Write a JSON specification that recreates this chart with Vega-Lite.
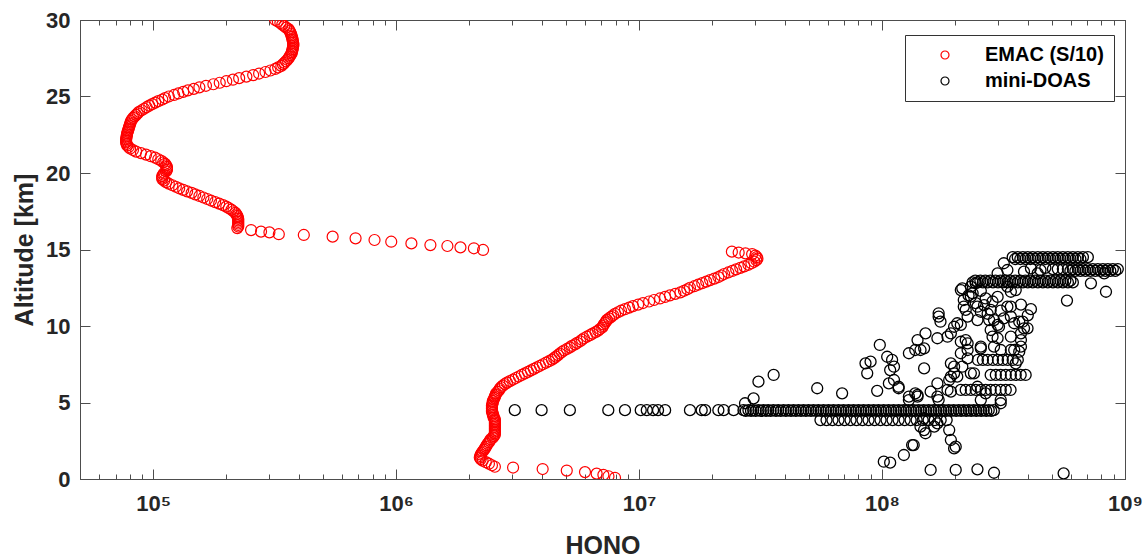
{
"$schema": "https://vega.github.io/schema/vega-lite/v6.json",
"width": 1045, "height": 459,
"autosize": {"type": "none"},
"padding": {"left": 80, "top": 20, "right": 21, "bottom": 79},
"background": "white",
"config": {"view": {"stroke": "#4d4d4d", "strokeWidth": 1}, "font": "Liberation Sans"},
"datasets": {
"emac": [
{"hono":318000,"alt":30.0},{"hono":326000,"alt":29.9},{"hono":334000,"alt":29.8},{"hono":340000,"alt":29.7},{"hono":347000,"alt":29.6},{"hono":353000,"alt":29.5},{"hono":361000,"alt":29.4},{"hono":364000,"alt":29.3},{"hono":367000,"alt":29.2},{"hono":369000,"alt":29.1},{"hono":371000,"alt":29.0},{"hono":372000,"alt":28.9},{"hono":374000,"alt":28.8},{"hono":375000,"alt":28.7},{"hono":376000,"alt":28.6},{"hono":377000,"alt":28.5},{"hono":378000,"alt":28.4},{"hono":377000,"alt":28.3},{"hono":376000,"alt":28.2},{"hono":375000,"alt":28.1},{"hono":374000,"alt":28.0},{"hono":372000,"alt":27.9},{"hono":371000,"alt":27.8},{"hono":367000,"alt":27.7},{"hono":364000,"alt":27.6},{"hono":361000,"alt":27.5},{"hono":357000,"alt":27.4},{"hono":352000,"alt":27.3},{"hono":347000,"alt":27.2},{"hono":342000,"alt":27.1},{"hono":337000,"alt":27.0},{"hono":327000,"alt":26.9},{"hono":318000,"alt":26.8},{"hono":304000,"alt":26.7},{"hono":290000,"alt":26.6},{"hono":273000,"alt":26.5},{"hono":258000,"alt":26.4},{"hono":242000,"alt":26.3},{"hono":226000,"alt":26.2},{"hono":213000,"alt":26.1},{"hono":200000,"alt":26.0},{"hono":188000,"alt":25.9},{"hono":177000,"alt":25.8},{"hono":165000,"alt":25.7},{"hono":155000,"alt":25.6},{"hono":147000,"alt":25.5},{"hono":139000,"alt":25.4},{"hono":133000,"alt":25.3},{"hono":127000,"alt":25.2},{"hono":122000,"alt":25.1},{"hono":116000,"alt":25.0},{"hono":112000,"alt":24.9},{"hono":109000,"alt":24.8},{"hono":105000,"alt":24.7},{"hono":102000,"alt":24.6},{"hono":99100,"alt":24.5},{"hono":96400,"alt":24.4},{"hono":94000,"alt":24.3},{"hono":91800,"alt":24.2},{"hono":89700,"alt":24.1},{"hono":87500,"alt":24.0},{"hono":86300,"alt":23.9},{"hono":85100,"alt":23.8},{"hono":83900,"alt":23.7},{"hono":82800,"alt":23.6},{"hono":81800,"alt":23.5},{"hono":81100,"alt":23.4},{"hono":80700,"alt":23.3},{"hono":80400,"alt":23.2},{"hono":80000,"alt":23.1},{"hono":79600,"alt":23.0},{"hono":79300,"alt":22.9},{"hono":78900,"alt":22.8},{"hono":78500,"alt":22.7},{"hono":78200,"alt":22.6},{"hono":78000,"alt":22.5},{"hono":77800,"alt":22.4},{"hono":77600,"alt":22.3},{"hono":77400,"alt":22.2},{"hono":77400,"alt":22.1},{"hono":77400,"alt":22.0},{"hono":77800,"alt":21.9},{"hono":78200,"alt":21.8},{"hono":79300,"alt":21.7},{"hono":80400,"alt":21.6},{"hono":82600,"alt":21.5},{"hono":85100,"alt":21.4},{"hono":89100,"alt":21.3},{"hono":93500,"alt":21.2},{"hono":97700,"alt":21.1},{"hono":101900,"alt":21.0},{"hono":105000,"alt":20.9},{"hono":108000,"alt":20.8},{"hono":110000,"alt":20.7},{"hono":112000,"alt":20.6},{"hono":113000,"alt":20.5},{"hono":114000,"alt":20.4},{"hono":114000,"alt":20.3},{"hono":114000,"alt":20.2},{"hono":113000,"alt":20.1},{"hono":111000,"alt":20.0},{"hono":110000,"alt":19.9},{"hono":109000,"alt":19.8},{"hono":109000,"alt":19.7},{"hono":109000,"alt":19.6},{"hono":111000,"alt":19.5},{"hono":113000,"alt":19.4},{"hono":116000,"alt":19.3},{"hono":120000,"alt":19.2},{"hono":124000,"alt":19.1},{"hono":128000,"alt":19.0},{"hono":133000,"alt":18.9},{"hono":138000,"alt":18.8},{"hono":144000,"alt":18.7},{"hono":149000,"alt":18.6},{"hono":155000,"alt":18.5},{"hono":161000,"alt":18.4},{"hono":167000,"alt":18.3},{"hono":173000,"alt":18.2},{"hono":180000,"alt":18.1},{"hono":187000,"alt":18.0},{"hono":194000,"alt":17.9},{"hono":200000,"alt":17.8},{"hono":205000,"alt":17.7},{"hono":210000,"alt":17.6},{"hono":214000,"alt":17.5},{"hono":218000,"alt":17.4},{"hono":220000,"alt":17.3},{"hono":222000,"alt":17.2},{"hono":223000,"alt":17.1},{"hono":224000,"alt":17.0},{"hono":224000,"alt":16.9},{"hono":224000,"alt":16.8},{"hono":224000,"alt":16.7},{"hono":224000,"alt":16.6},{"hono":224000,"alt":16.5},{"hono":222000,"alt":16.4},
{"hono":253000,"alt":16.27},{"hono":278000,"alt":16.17},{"hono":301000,"alt":16.12},{"hono":329000,"alt":16.0},{"hono":417000,"alt":15.95},{"hono":548000,"alt":15.84},{"hono":681000,"alt":15.73},{"hono":815000,"alt":15.62},{"hono":955000,"alt":15.51},{"hono":1156000,"alt":15.4},{"hono":1384000,"alt":15.29},{"hono":1626000,"alt":15.23},{"hono":1840000,"alt":15.14},{"hono":2090000,"alt":15.08},{"hono":2280000,"alt":14.97},
{"hono":2.41e7,"alt":14.86},{"hono":2.57e7,"alt":14.8},{"hono":2.74e7,"alt":14.75},{"hono":2.92e7,"alt":14.7},{"hono":3.01e7,"alt":14.6},{"hono":3.05e7,"alt":14.5},{"hono":3.07e7,"alt":14.4},{"hono":3.04e7,"alt":14.3},{"hono":2.98e7,"alt":14.2},{"hono":2.90e7,"alt":14.1},{"hono":2.82e7,"alt":14.0},{"hono":2.71e7,"alt":13.9},{"hono":2.61e7,"alt":13.8},{"hono":2.51e7,"alt":13.7},{"hono":2.42e7,"alt":13.6},{"hono":2.33e7,"alt":13.5},{"hono":2.24e7,"alt":13.4},{"hono":2.18e7,"alt":13.3},{"hono":2.12e7,"alt":13.2},{"hono":2.04e7,"alt":13.1},{"hono":1.96e7,"alt":13.0},{"hono":1.89e7,"alt":12.9},{"hono":1.82e7,"alt":12.8},{"hono":1.75e7,"alt":12.7},{"hono":1.69e7,"alt":12.6},{"hono":1.62e7,"alt":12.5},{"hono":1.58e7,"alt":12.4},{"hono":1.53e7,"alt":12.3},{"hono":1.48e7,"alt":12.2},{"hono":1.41e7,"alt":12.1},{"hono":1.34e7,"alt":12.0},{"hono":1.28e7,"alt":11.9},{"hono":1.22e7,"alt":11.8},{"hono":1.153e7,"alt":11.7},{"hono":1.10e7,"alt":11.6},{"hono":1.038e7,"alt":11.5},{"hono":9.91e6,"alt":11.4},{"hono":9.44e6,"alt":11.3},{"hono":9.10e6,"alt":11.2},{"hono":8.75e6,"alt":11.1},{"hono":8.43e6,"alt":11.0},{"hono":8.19e6,"alt":10.9},{"hono":7.96e6,"alt":10.8},{"hono":7.82e6,"alt":10.7},{"hono":7.67e6,"alt":10.6},{"hono":7.52e6,"alt":10.5},{"hono":7.38e6,"alt":10.4},{"hono":7.31e6,"alt":10.3},{"hono":7.24e6,"alt":10.2},{"hono":7.15e6,"alt":10.1},{"hono":7.11e6,"alt":10.0},{"hono":7.05e6,"alt":9.9},{"hono":6.90e6,"alt":9.8},{"hono":6.78e6,"alt":9.7},{"hono":6.62e6,"alt":9.6},{"hono":6.43e6,"alt":9.5},{"hono":6.28e6,"alt":9.4},{"hono":6.10e6,"alt":9.3},{"hono":5.93e6,"alt":9.2},{"hono":5.82e6,"alt":9.1},{"hono":5.72e6,"alt":9.0},{"hono":5.56e6,"alt":8.9},{"hono":5.45e6,"alt":8.8},{"hono":5.29e6,"alt":8.7},{"hono":5.19e6,"alt":8.6},{"hono":5.05e6,"alt":8.5},{"hono":4.91e6,"alt":8.4},{"hono":4.81e6,"alt":8.3},{"hono":4.72e6,"alt":8.2},{"hono":4.64e6,"alt":8.1},{"hono":4.55e6,"alt":8.0},{"hono":4.47e6,"alt":7.9},{"hono":4.38e6,"alt":7.8},{"hono":4.26e6,"alt":7.7},{"hono":4.14e6,"alt":7.6},{"hono":4.02e6,"alt":7.5},{"hono":3.91e6,"alt":7.4},{"hono":3.80e6,"alt":7.3},{"hono":3.69e6,"alt":7.2},{"hono":3.59e6,"alt":7.1},{"hono":3.49e6,"alt":7.0},{"hono":3.39e6,"alt":6.9},{"hono":3.29e6,"alt":6.8},{"hono":3.20e6,"alt":6.7},{"hono":3.11e6,"alt":6.6},{"hono":3.03e6,"alt":6.5},{"hono":2.94e6,"alt":6.4},{"hono":2.86e6,"alt":6.3},{"hono":2.80e6,"alt":6.2},{"hono":2.75e6,"alt":6.1},{"hono":2.70e6,"alt":6.0},{"hono":2.67e6,"alt":5.9},{"hono":2.65e6,"alt":5.8},{"hono":2.62e6,"alt":5.7},{"hono":2.58e6,"alt":5.6},{"hono":2.57e6,"alt":5.5},{"hono":2.55e6,"alt":5.4},{"hono":2.54e6,"alt":5.3},{"hono":2.52e6,"alt":5.2},{"hono":2.50e6,"alt":5.1},{"hono":2.50e6,"alt":5.0},{"hono":2.49e6,"alt":4.9},{"hono":2.48e6,"alt":4.8},{"hono":2.48e6,"alt":4.7},{"hono":2.48e6,"alt":4.6},{"hono":2.48e6,"alt":4.5},{"hono":2.48e6,"alt":4.4},{"hono":2.50e6,"alt":4.3},{"hono":2.50e6,"alt":4.2},{"hono":2.52e6,"alt":4.1},{"hono":2.52e6,"alt":4.0},{"hono":2.55e6,"alt":3.9},{"hono":2.55e6,"alt":3.8},{"hono":2.55e6,"alt":3.7},{"hono":2.55e6,"alt":3.6},{"hono":2.55e6,"alt":3.5},{"hono":2.55e6,"alt":3.4},{"hono":2.55e6,"alt":3.3},{"hono":2.55e6,"alt":3.2},{"hono":2.55e6,"alt":3.1},{"hono":2.55e6,"alt":3.0},{"hono":2.55e6,"alt":2.9},{"hono":2.52e6,"alt":2.8},{"hono":2.50e6,"alt":2.7},{"hono":2.45e6,"alt":2.6},{"hono":2.43e6,"alt":2.5},{"hono":2.41e6,"alt":2.4},{"hono":2.38e6,"alt":2.3},{"hono":2.36e6,"alt":2.2},{"hono":2.34e6,"alt":2.1},{"hono":2.32e6,"alt":2.0},{"hono":2.30e6,"alt":1.9},{"hono":2.27e6,"alt":1.8},{"hono":2.25e6,"alt":1.7},{"hono":2.23e6,"alt":1.6},{"hono":2.22e6,"alt":1.5},{"hono":2.21e6,"alt":1.4},{"hono":2.23e6,"alt":1.3},{"hono":2.27e6,"alt":1.2},{"hono":2.34e6,"alt":1.1},{"hono":2.41e6,"alt":1.0},{"hono":2.48e6,"alt":0.9},{"hono":2.55e6,"alt":0.8},
{"hono":3.03e6,"alt":0.75},{"hono":4.01e6,"alt":0.65},{"hono":5.04e6,"alt":0.55},{"hono":5.99e6,"alt":0.45},{"hono":6.69e6,"alt":0.35},{"hono":7.13e6,"alt":0.27},{"hono":7.48e6,"alt":0.18},{"hono":7.96e6,"alt":0.08}
],
"doas": [
{"hono":3.08e6,"alt":4.5},{"hono":3.97e6,"alt":4.5},{"hono":5.19e6,"alt":4.5},{"hono":7.47e6,"alt":4.5},{"hono":8.75e6,"alt":4.5},{"hono":1.016e7,"alt":4.5},{"hono":1.076e7,"alt":4.5},{"hono":1.142e7,"alt":4.5},{"hono":1.197e7,"alt":4.5},{"hono":1.28e7,"alt":4.5},{"hono":1.62e7,"alt":4.5},{"hono":1.81e7,"alt":4.5},{"hono":1.87e7,"alt":4.5},{"hono":2.12e7,"alt":4.5},{"hono":2.23e7,"alt":4.5},{"hono":2.45e7,"alt":4.5},
{"hono":2.69e7,"alt":4.5},{"hono":2.82e7,"alt":4.5},{"hono":2.95e7,"alt":4.5},{"hono":3.10e7,"alt":4.5},{"hono":3.25e7,"alt":4.5},{"hono":3.40e7,"alt":4.5},{"hono":3.57e7,"alt":4.5},{"hono":3.74e7,"alt":4.5},{"hono":3.93e7,"alt":4.5},{"hono":4.12e7,"alt":4.5},{"hono":4.32e7,"alt":4.5},{"hono":4.53e7,"alt":4.5},{"hono":4.75e7,"alt":4.5},{"hono":4.98e7,"alt":4.5},{"hono":5.22e7,"alt":4.5},{"hono":5.47e7,"alt":4.5},{"hono":5.74e7,"alt":4.5},{"hono":6.02e7,"alt":4.5},{"hono":6.31e7,"alt":4.5},{"hono":6.62e7,"alt":4.5},{"hono":6.94e7,"alt":4.5},{"hono":7.28e7,"alt":4.5},{"hono":7.63e7,"alt":4.5},{"hono":8.00e7,"alt":4.5},{"hono":8.39e7,"alt":4.5},{"hono":8.80e7,"alt":4.5},{"hono":9.23e7,"alt":4.5},{"hono":9.67e7,"alt":4.5},{"hono":1.015e8,"alt":4.5},{"hono":1.064e8,"alt":4.5},{"hono":1.116e8,"alt":4.5},{"hono":1.17e8,"alt":4.5},{"hono":1.227e8,"alt":4.5},{"hono":1.286e8,"alt":4.5},{"hono":1.349e8,"alt":4.5},{"hono":1.414e8,"alt":4.5},{"hono":1.483e8,"alt":4.5},{"hono":1.555e8,"alt":4.5},{"hono":1.631e8,"alt":4.5},{"hono":1.71e8,"alt":4.5},{"hono":1.793e8,"alt":4.5},{"hono":1.88e8,"alt":4.5},{"hono":1.971e8,"alt":4.5},{"hono":2.068e8,"alt":4.5},{"hono":2.168e8,"alt":4.5},{"hono":2.273e8,"alt":4.5},{"hono":2.384e8,"alt":4.5},{"hono":2.499e8,"alt":4.5},{"hono":2.621e8,"alt":4.5},{"hono":2.748e8,"alt":4.5},{"hono":2.882e8,"alt":4.5},
{"hono":2.75e7,"alt":4.45},{"hono":2.89e7,"alt":4.45},{"hono":3.02e7,"alt":4.45},{"hono":3.17e7,"alt":4.45},{"hono":3.33e7,"alt":4.45},{"hono":3.48e7,"alt":4.45},{"hono":3.66e7,"alt":4.45},{"hono":3.83e7,"alt":4.45},{"hono":4.02e7,"alt":4.45},{"hono":4.22e7,"alt":4.45},{"hono":4.42e7,"alt":4.45},{"hono":4.64e7,"alt":4.45},{"hono":4.86e7,"alt":4.45},{"hono":5.10e7,"alt":4.45},{"hono":5.35e7,"alt":4.45},{"hono":5.60e7,"alt":4.45},{"hono":5.88e7,"alt":4.45},{"hono":6.16e7,"alt":4.45},{"hono":6.46e7,"alt":4.45},{"hono":6.78e7,"alt":4.45},{"hono":7.11e7,"alt":4.45},{"hono":7.45e7,"alt":4.45},{"hono":7.81e7,"alt":4.45},{"hono":8.19e7,"alt":4.45},{"hono":8.59e7,"alt":4.45},{"hono":9.01e7,"alt":4.45},{"hono":9.45e7,"alt":4.45},{"hono":9.90e7,"alt":4.45},{"hono":1.039e8,"alt":4.45},{"hono":1.09e8,"alt":4.45},{"hono":1.143e8,"alt":4.45},{"hono":1.198e8,"alt":4.45},{"hono":1.256e8,"alt":4.45},{"hono":1.317e8,"alt":4.45},{"hono":1.381e8,"alt":4.45},{"hono":1.448e8,"alt":4.45},{"hono":1.518e8,"alt":4.45},{"hono":1.592e8,"alt":4.45},{"hono":1.67e8,"alt":4.45},{"hono":1.751e8,"alt":4.45},{"hono":1.836e8,"alt":4.45},{"hono":1.925e8,"alt":4.45},{"hono":2.018e8,"alt":4.45},{"hono":2.117e8,"alt":4.45},{"hono":2.22e8,"alt":4.45},{"hono":2.328e8,"alt":4.45},{"hono":2.441e8,"alt":4.45},{"hono":2.559e8,"alt":4.45},{"hono":2.684e8,"alt":4.45},{"hono":2.814e8,"alt":4.45},
{"hono":5.58e7,"alt":3.85},{"hono":5.91e7,"alt":3.85},{"hono":6.25e7,"alt":3.85},{"hono":6.62e7,"alt":3.85},{"hono":7.01e7,"alt":3.85},{"hono":7.42e7,"alt":3.85},{"hono":7.85e7,"alt":3.85},{"hono":8.31e7,"alt":3.85},{"hono":8.8e7,"alt":3.85},{"hono":9.32e7,"alt":3.85},{"hono":9.86e7,"alt":3.85},{"hono":1.044e8,"alt":3.85},{"hono":1.105e8,"alt":3.85},{"hono":1.17e8,"alt":3.85},{"hono":1.239e8,"alt":3.85},{"hono":1.311e8,"alt":3.85},{"hono":1.388e8,"alt":3.85},{"hono":1.47e8,"alt":3.85},{"hono":1.555e8,"alt":3.85},{"hono":1.647e8,"alt":3.85},{"hono":1.743e8,"alt":3.85},{"hono":1.845e8,"alt":3.85},
{"hono":2.11e8,"alt":5.82},{"hono":2.21e8,"alt":5.82},{"hono":2.32e8,"alt":5.82},{"hono":2.43e8,"alt":5.82},{"hono":2.55e8,"alt":5.82},{"hono":2.67e8,"alt":5.82},{"hono":2.8e8,"alt":5.82},{"hono":2.93e8,"alt":5.82},{"hono":3.08e8,"alt":5.82},{"hono":3.23e8,"alt":5.82},{"hono":3.38e8,"alt":5.82},
{"hono":2.48e8,"alt":7.78},{"hono":2.6e8,"alt":7.78},{"hono":2.72e8,"alt":7.78},{"hono":2.86e8,"alt":7.78},{"hono":3.0e8,"alt":7.78},{"hono":3.14e8,"alt":7.78},{"hono":3.29e8,"alt":7.78},{"hono":3.45e8,"alt":7.78},{"hono":3.62e8,"alt":7.78},
{"hono":2.8e8,"alt":6.8},{"hono":2.94e8,"alt":6.8},{"hono":3.08e8,"alt":6.8},{"hono":3.23e8,"alt":6.8},{"hono":3.39e8,"alt":6.8},{"hono":3.55e8,"alt":6.8},{"hono":3.72e8,"alt":6.8},{"hono":3.9e8,"alt":6.8},
{"hono":2.36e8,"alt":12.85},{"hono":2.48e8,"alt":12.85},{"hono":2.6e8,"alt":12.85},{"hono":2.72e8,"alt":12.85},{"hono":2.86e8,"alt":12.85},{"hono":3.0e8,"alt":12.85},{"hono":3.14e8,"alt":12.85},{"hono":3.29e8,"alt":12.85},{"hono":3.45e8,"alt":12.85},{"hono":3.62e8,"alt":12.85},{"hono":3.8e8,"alt":12.85},{"hono":3.98e8,"alt":12.85},{"hono":4.17e8,"alt":12.85},{"hono":4.38e8,"alt":12.85},{"hono":4.59e8,"alt":12.85},{"hono":4.81e8,"alt":12.85},{"hono":5.05e8,"alt":12.85},{"hono":5.29e8,"alt":12.85},{"hono":5.55e8,"alt":12.85},{"hono":5.82e8,"alt":12.85},{"hono":6.1e8,"alt":12.85},
{"hono":2.42e8,"alt":12.97},{"hono":2.54e8,"alt":12.97},{"hono":2.66e8,"alt":12.97},{"hono":2.79e8,"alt":12.97},{"hono":2.93e8,"alt":12.97},{"hono":3.07e8,"alt":12.97},{"hono":3.22e8,"alt":12.97},{"hono":3.37e8,"alt":12.97},{"hono":3.53e8,"alt":12.97},{"hono":3.71e8,"alt":12.97},{"hono":3.89e8,"alt":12.97},{"hono":4.08e8,"alt":12.97},{"hono":4.27e8,"alt":12.97},{"hono":4.49e8,"alt":12.97},{"hono":4.7e8,"alt":12.97},{"hono":4.93e8,"alt":12.97},{"hono":5.17e8,"alt":12.97},{"hono":5.42e8,"alt":12.97},{"hono":5.68e8,"alt":12.97},{"hono":5.96e8,"alt":12.97},
{"hono":3.45e8,"alt":14.5},{"hono":3.62e8,"alt":14.5},{"hono":3.8e8,"alt":14.5},{"hono":3.98e8,"alt":14.5},{"hono":4.17e8,"alt":14.5},{"hono":4.38e8,"alt":14.5},{"hono":4.59e8,"alt":14.5},{"hono":4.81e8,"alt":14.5},{"hono":5.05e8,"alt":14.5},{"hono":5.29e8,"alt":14.5},{"hono":5.55e8,"alt":14.5},{"hono":5.82e8,"alt":14.5},{"hono":6.1e8,"alt":14.5},{"hono":6.4e8,"alt":14.5},{"hono":6.71e8,"alt":14.5},{"hono":7.03e8,"alt":14.5},
{"hono":3.53e8,"alt":14.38},{"hono":3.71e8,"alt":14.38},{"hono":3.89e8,"alt":14.38},{"hono":4.08e8,"alt":14.38},{"hono":4.27e8,"alt":14.38},{"hono":4.49e8,"alt":14.38},{"hono":4.7e8,"alt":14.38},{"hono":4.93e8,"alt":14.38},{"hono":5.17e8,"alt":14.38},{"hono":5.42e8,"alt":14.38},{"hono":5.68e8,"alt":14.38},{"hono":5.96e8,"alt":14.38},{"hono":6.25e8,"alt":14.38},{"hono":6.55e8,"alt":14.38},
{"hono":5.05e8,"alt":13.72},{"hono":5.29e8,"alt":13.72},{"hono":5.55e8,"alt":13.72},{"hono":5.82e8,"alt":13.72},{"hono":6.1e8,"alt":13.72},{"hono":6.4e8,"alt":13.72},{"hono":6.71e8,"alt":13.72},{"hono":7.03e8,"alt":13.72},{"hono":7.37e8,"alt":13.72},{"hono":7.73e8,"alt":13.72},{"hono":8.11e8,"alt":13.72},{"hono":8.5e8,"alt":13.72},{"hono":8.91e8,"alt":13.72},{"hono":9.34e8,"alt":13.72},
{"hono":5.96e8,"alt":13.6},{"hono":6.25e8,"alt":13.6},{"hono":6.55e8,"alt":13.6},{"hono":6.87e8,"alt":13.6},{"hono":7.2e8,"alt":13.6},{"hono":7.55e8,"alt":13.6},{"hono":7.92e8,"alt":13.6},{"hono":8.3e8,"alt":13.6},{"hono":8.7e8,"alt":13.6},{"hono":9.12e8,"alt":13.6},
{"hono":2.73e7,"alt":4.95},{"hono":2.96e7,"alt":5.27},{"hono":3.10e7,"alt":6.36},{"hono":3.58e7,"alt":6.8},{"hono":5.41e7,"alt":5.93},{"hono":6.85e7,"alt":5.6},{"hono":9.79e7,"alt":8.76},{"hono":8.55e7,"alt":7.56},{"hono":8.97e7,"alt":7.67},{"hono":8.69e7,"alt":6.91},{"hono":9.55e7,"alt":5.76},{"hono":1.05e8,"alt":7.99},{"hono":1.10e8,"alt":7.78},{"hono":1.08e8,"alt":7.12},{"hono":1.12e8,"alt":6.47},{"hono":1.067e8,"alt":6.25},{"hono":1.17e8,"alt":6.03},{"hono":1.017e8,"alt":1.13},{"hono":1.08e8,"alt":1.07},{"hono":1.23e8,"alt":1.57},{"hono":1.33e8,"alt":2.22},{"hono":1.29e8,"alt":5.38},{"hono":1.37e8,"alt":5.6},{"hono":1.49e8,"alt":7.23},{"hono":1.29e8,"alt":8.22},{"hono":1.40e8,"alt":9.08},{"hono":1.37e8,"alt":8.43},{"hono":1.49e8,"alt":8.54},{"hono":1.51e8,"alt":9.52},{"hono":1.71e8,"alt":10.61},{"hono":1.74e8,"alt":10.28},{"hono":1.69e8,"alt":9.2},{"hono":1.86e8,"alt":9.3},{"hono":1.98e8,"alt":9.95},{"hono":2.11e8,"alt":10.07},{"hono":2.21e8,"alt":11.05},{"hono":2.17e8,"alt":11.7},{"hono":2.14e8,"alt":12.46},{"hono":2.36e8,"alt":12.14},{"hono":2.47e8,"alt":11.26},{"hono":2.55e8,"alt":10.93},{"hono":2.76e8,"alt":10.39},{"hono":2.99e8,"alt":10.07},{"hono":2.85e8,"alt":9.3},{"hono":2.21e8,"alt":9.08},{"hono":2.55e8,"alt":8.54},{"hono":2.25e8,"alt":7.89},{"hono":2.14e8,"alt":7.34},{"hono":1.98e8,"alt":6.91},{"hono":1.89e8,"alt":6.47},{"hono":1.86e8,"alt":5.82},{"hono":2.39e8,"alt":6.91},{"hono":2.55e8,"alt":5.16},{"hono":2.67e8,"alt":5.6},{"hono":3.08e8,"alt":4.95},{"hono":3.39e8,"alt":11.26},{"hono":3.39e8,"alt":10.61},{"hono":3.50e8,"alt":10.18},{"hono":3.67e8,"alt":10.28},{"hono":3.84e8,"alt":9.85},{"hono":3.73e8,"alt":9.08},{"hono":3.39e8,"alt":8.43},{"hono":3.67e8,"alt":8.32},{"hono":3.55e8,"alt":7.56},{"hono":2.89e8,"alt":8.65},{"hono":1.69e8,"alt":5.38},{"hono":1.40e8,"alt":5.38},{"hono":1.44e8,"alt":3.42},{"hono":1.51e8,"alt":2.99},{"hono":1.89e8,"alt":3.2},{"hono":1.92e8,"alt":2.55},{"hono":1.98e8,"alt":2.0},{"hono":1.585e8,"alt":0.59},{"hono":2.01e8,"alt":0.59},{"hono":2.47e8,"alt":0.63},{"hono":2.89e8,"alt":0.41},{"hono":5.59e8,"alt":0.37},{"hono":7.24e8,"alt":12.79},{"hono":8.35e8,"alt":12.24},{"hono":5.77e8,"alt":11.66},{"hono":8.21e8,"alt":13.44},{"hono":2.11e8,"alt":12.35},{"hono":2.32e8,"alt":11.92},{"hono":2.17e8,"alt":11.26},{"hono":2.63e8,"alt":11.37},{"hono":2.80e8,"alt":11.05},{"hono":2.25e8,"alt":10.61},{"hono":2.47e8,"alt":10.39},{"hono":2.89e8,"alt":10.39},{"hono":3.03e8,"alt":9.95},{"hono":3.28e8,"alt":11.26},{"hono":3.39e8,"alt":12.24},{"hono":2.99e8,"alt":13.44},{"hono":3.28e8,"alt":13.66},{"hono":3.84e8,"alt":13.55},{"hono":4.37e8,"alt":13.44},{"hono":3.28e8,"alt":12.57},{"hono":3.55e8,"alt":12.35},{"hono":2.80e8,"alt":9.74},{"hono":3.50e8,"alt":8.43},{"hono":3.08e8,"alt":8.43},{"hono":1.71e8,"alt":10.83},{"hono":1.44e8,"alt":8.43},{"hono":1.12e8,"alt":7.34},{"hono":1.92e8,"alt":9.52},{"hono":2.04e8,"alt":10.18},{"hono":2.11e8,"alt":8.97},{"hono":2.25e8,"alt":8.43},{"hono":1.98e8,"alt":7.34},{"hono":1.92e8,"alt":6.69},{"hono":2.32e8,"alt":6.91},{"hono":2.47e8,"alt":6.03},{"hono":2.99e8,"alt":9.2},{"hono":3.39e8,"alt":9.3},{"hono":1.17e8,"alt":5.93},{"hono":1.29e8,"alt":5.16},{"hono":1.40e8,"alt":5.49},{"hono":1.585e8,"alt":5.71},{"hono":1.69e8,"alt":6.25},{"hono":1.92e8,"alt":5.71},{"hono":2.04e8,"alt":6.69},{"hono":1.92e8,"alt":7.56},{"hono":2.11e8,"alt":8.22},{"hono":2.25e8,"alt":8.87},{"hono":2.55e8,"alt":8.65},{"hono":3.08e8,"alt":5.16},{"hono":1.49e8,"alt":3.2},{"hono":1.64e8,"alt":3.42},{"hono":2.01e8,"alt":2.11},{"hono":1.35e8,"alt":2.22},{"hono":1.71e8,"alt":5.16},{"hono":1.49e8,"alt":3.97},{"hono":1.69e8,"alt":3.64},{"hono":3.79e8,"alt":10.28},{"hono":3.97e8,"alt":9.85},{"hono":3.73e8,"alt":9.52},{"hono":3.73e8,"alt":8.65},{"hono":4.10e8,"alt":11.1},{"hono":3.98e8,"alt":10.7},{"hono":3.73e8,"alt":11.4},{"hono":2.32e8,"alt":12.57},{"hono":2.43e8,"alt":12.8},{"hono":2.27e8,"alt":12.0},{"hono":2.67e8,"alt":11.8},{"hono":2.55e8,"alt":12.3},{"hono":2.85e8,"alt":11.6},{"hono":2.99e8,"alt":11.9},{"hono":3.08e8,"alt":11.0},{"hono":2.43e8,"alt":11.5},{"hono":2.72e8,"alt":10.8},{"hono":3.17e8,"alt":10.5},{"hono":3.17e8,"alt":14.1},{"hono":4.10e8,"alt":13.77},{"hono":4.49e8,"alt":13.65},{"hono":4.70e8,"alt":13.8}
]
},
"layer": [
{
"data": {"name": "emac"},
"mark": {"type": "point", "filled": false, "size": 121, "strokeWidth": 1.2, "opacity": 1, "clip": true},
"encoding": {
"x": {"field": "hono", "type": "quantitative", "scale": {"type": "log", "domain": [50000, 1000000000], "nice": false},
"axis": {"orient": "bottom", "title": "HONO", "grid": false,
"values": [60000,70000,80000,90000,100000,200000,300000,400000,500000,600000,700000,800000,900000,1000000,2000000,3000000,4000000,5000000,6000000,7000000,8000000,9000000,10000000,20000000,30000000,40000000,50000000,60000000,70000000,80000000,90000000,100000000,200000000,300000000,400000000,500000000,600000000,700000000,800000000,900000000,1000000000],
"labelExpr": "datum.value == 100000 ? '10⁵' : datum.value == 1000000 ? '10⁶' : datum.value == 10000000 ? '10⁷' : datum.value == 100000000 ? '10⁸' : datum.value == 1000000000 ? '10⁹' : ''",
"tickSize": {"condition": {"test": "datum.value == 100000 || datum.value == 1000000 || datum.value == 10000000 || datum.value == 100000000 || datum.value == 1000000000", "value": -10}, "value": -5},
"domainColor": "#4d4d4d", "tickColor": "#4d4d4d", "domainWidth": 1, "tickWidth": 1,
"labelPadding": 24, "labelFont": "Liberation Sans", "labelFontSize": 22, "labelFontWeight": "bold", "labelColor": "#262626",
"labelOverlap": false, "labelFlush": false,
"titleFont": "Liberation Sans", "titleFontSize": 25, "titleFontWeight": "bold", "titleColor": "#262626", "titlePadding": 14}},
"y": {"field": "alt", "type": "quantitative", "scale": {"domain": [0, 30], "nice": false},
"axis": {"orient": "left", "title": "Altitude [km]", "grid": false, "values": [0,5,10,15,20,25,30],
"tickSize": -10, "domainColor": "#4d4d4d", "tickColor": "#4d4d4d",
"labelPadding": 20, "labelFont": "Liberation Sans", "labelFontSize": 22, "labelFontWeight": "bold", "labelColor": "#262626",
"titleFont": "Liberation Sans", "titleFontSize": 25, "titleFontWeight": "bold", "titleColor": "#262626", "titlePadding": 8}},
"color": {"datum": "EMAC (S/10)", "type": "nominal", "scale": {"domain": ["EMAC (S/10)", "mini-DOAS"], "range": ["#ff0000", "#000000"]},
"legend": {"orient": "none", "legendX": 825, "legendY": 15, "title": null, "labelFont": "Liberation Sans", "labelFontSize": 20, "labelFontWeight": "bold", "labelColor": "#000000", "symbolType": "circle", "symbolSize": 64, "symbolStrokeWidth": 1.2, "strokeColor": "#333333", "fillColor": "white", "padding": 10, "rowPadding": 6, "symbolOffset": 20, "labelOffset": 30, "cornerRadius": 0}}
}
},
{
"data": {"name": "doas"},
"mark": {"type": "point", "filled": false, "size": 121, "strokeWidth": 1.3, "opacity": 1, "clip": true},
"encoding": {
"x": {"field": "hono", "type": "quantitative", "axis": null},
"y": {"field": "alt", "type": "quantitative", "axis": null},
"color": {"datum": "mini-DOAS", "type": "nominal"}
}
},
{
"data": {"name": "doas"},
"mark": {"type": "point", "opacity": 0},
"encoding": {
"x": {"field": "hono", "type": "quantitative",
"axis": {"orient": "top", "title": null, "labels": false, "grid": false,
"values": [60000,70000,80000,90000,100000,200000,300000,400000,500000,600000,700000,800000,900000,1000000,2000000,3000000,4000000,5000000,6000000,7000000,8000000,9000000,10000000,20000000,30000000,40000000,50000000,60000000,70000000,80000000,90000000,100000000,200000000,300000000,400000000,500000000,600000000,700000000,800000000,900000000,1000000000],
"tickSize": {"condition": {"test": "datum.value == 100000 || datum.value == 1000000 || datum.value == 10000000 || datum.value == 100000000 || datum.value == 1000000000", "value": -10}, "value": -5},
"domainColor": "#4d4d4d", "tickColor": "#4d4d4d"}},
"y": {"field": "alt", "type": "quantitative",
"axis": {"orient": "right", "title": null, "labels": false, "grid": false, "values": [0,5,10,15,20,25,30], "tickSize": -10, "domainColor": "#4d4d4d", "tickColor": "#4d4d4d"}}
}
}
],
"resolve": {"axis": {"x": "independent", "y": "independent"}}
}
